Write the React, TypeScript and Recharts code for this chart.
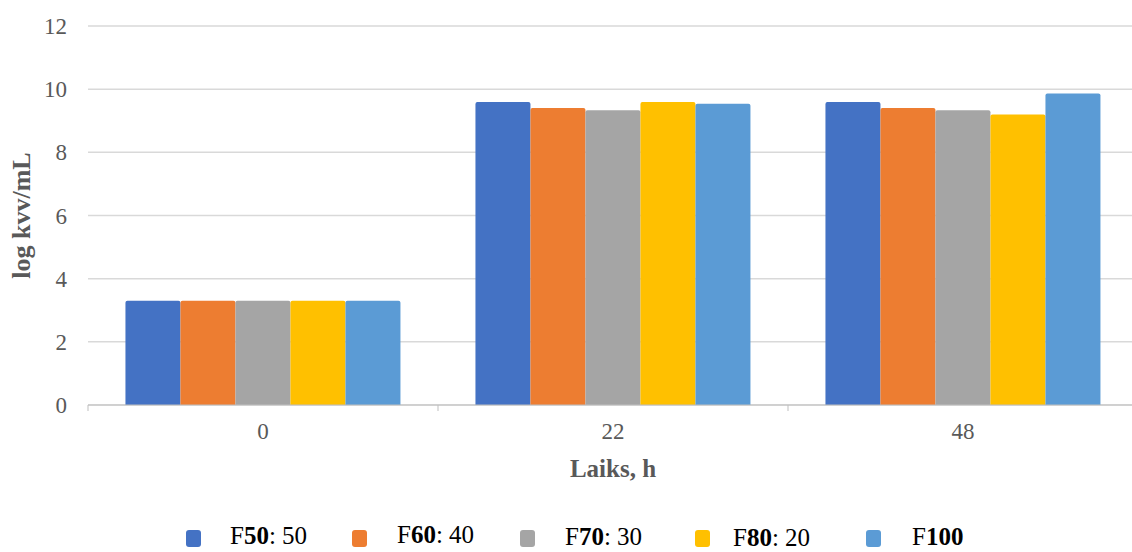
import React from 'react';
import { BarChart, Bar, XAxis, YAxis, CartesianGrid } from 'recharts';

const hours = ['0', '22', '48'];
const f50 = [3.3, 9.59, 9.59];
const f60 = [3.3, 9.4, 9.4];
const f70 = [3.3, 9.33, 9.33];
const f80 = [3.3, 9.59, 9.2];
const f100 = [3.3, 9.54, 9.86];
const yTicks = [0, 2, 4, 6, 8, 10, 12];

const SERIES = [
  { key: 'f50', values: f50, color: '#4472C4', num: '50', tail: ': 50' },
  { key: 'f60', values: f60, color: '#ED7D31', num: '60', tail: ': 40' },
  { key: 'f70', values: f70, color: '#A5A5A5', num: '70', tail: ': 30' },
  { key: 'f80', values: f80, color: '#FFC000', num: '80', tail: ': 20' },
  { key: 'f100', values: f100, color: '#5B9BD5', num: '100', tail: '' },
];

const data = hours.map((h, i) => {
  const row: Record<string, any> = { hour: h };
  SERIES.forEach((s) => { row[s.key] = s.values[i]; });
  return row;
});

const FONT = '"Liberation Serif", "Times New Roman", serif';
const GREY = '#595959';

// legend placement: square left, text left, baseline nudge
const LEGEND_POS = [
  { sq: 186, tx: 230, dy: 0 },
  { sq: 352, tx: 397, dy: -1 },
  { sq: 520, tx: 565, dy: 1 },
  { sq: 695, tx: 733, dy: 2 },
  { sq: 866, tx: 912, dy: 1 },
];

function HourTick(props: any) {
  const { x, y, payload } = props;
  const half = payload.offset || 175;
  return (
    <g>
      <line x1={x - half} x2={x - half} y1={y - 8} y2={y - 2} stroke="#BFBFBF" />
      <text x={x} y={y + 26} textAnchor="middle" fill={GREY} fontSize={23} fontFamily={FONT}>
        {payload.value}
      </text>
    </g>
  );
}

export default function App() {
  return (
    <div style={{ position: 'absolute', left: 0, top: 0, width: 1132, height: 552, overflow: 'hidden', background: '#fff' }}>
      <BarChart
        width={1140}
        height={552}
        data={data}
        margin={{ top: 26, right: 2, left: 0, bottom: 0 }}
        barCategoryGap="10.7%"
        barGap={0}
      >
        <CartesianGrid vertical={false} stroke="#D9D9D9" strokeWidth={1.5} />
        <XAxis
          dataKey="hour"
          height={147}
          stroke="#BFBFBF"
          tickLine={false}
          tick={<HourTick />}
          label={({ viewBox }: any) => (
            <text
              x={viewBox.x + viewBox.width / 2}
              y={viewBox.y + 72}
              textAnchor="middle"
              fill={GREY}
              fontSize={25}
              fontWeight="bold"
              fontFamily={FONT}
            >
              Laiks, h
            </text>
          )}
        />
        <YAxis
          width={88}
          domain={[0, 12]}
          ticks={yTicks}
          axisLine={false}
          tickLine={false}
          tickSize={0}
          tickMargin={21}
          tick={{ fill: GREY, fontSize: 23, fontFamily: FONT }}
          label={({ viewBox }: any) => {
            const cy = viewBox.y + viewBox.height / 2;
            return (
              <text
                x={30}
                y={cy}
                transform={`rotate(-90 30 ${cy})`}
                textAnchor="middle"
                fill={GREY}
                fontSize={26}
                fontWeight="bold"
                fontFamily={FONT}
              >
                log kvv/mL
              </text>
            );
          }}
        />
        {SERIES.map((s) => (
          <Bar key={s.key} dataKey={s.key} fill={s.color} radius={[2, 2, 0, 0]} isAnimationActive={false} />
        ))}
      </BarChart>
      {SERIES.map((s, i) => (
        <React.Fragment key={s.key}>
          <div
            style={{
              position: 'absolute', left: LEGEND_POS[i].sq, top: 530, width: 15, height: 17,
              borderRadius: 3, background: s.color,
            }}
          />
          <div
            style={{
              position: 'absolute', left: LEGEND_POS[i].tx, top: 522 + LEGEND_POS[i].dy,
              fontFamily: FONT, fontSize: 25, color: '#000', whiteSpace: 'nowrap',
            }}
          >
            F<b>{s.num}</b>{s.tail}
          </div>
        </React.Fragment>
      ))}
    </div>
  );
}
